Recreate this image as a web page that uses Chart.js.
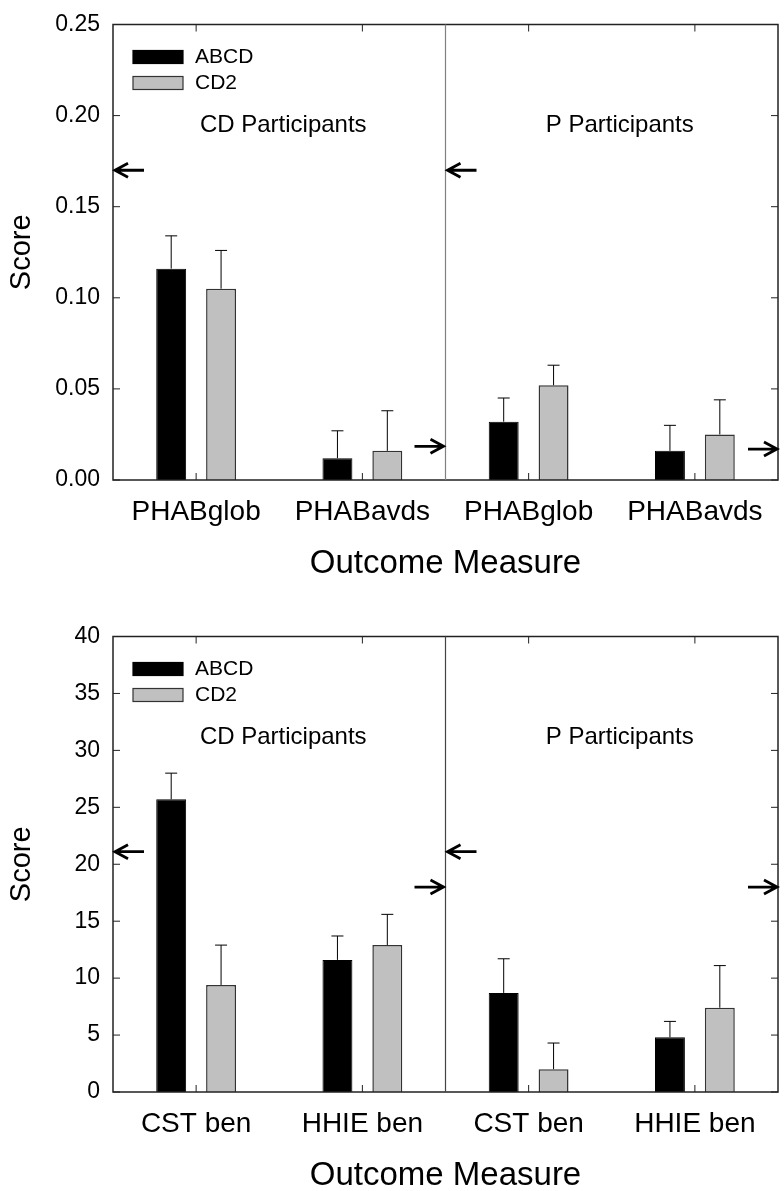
<!DOCTYPE html>
<html>
<head>
<meta charset="utf-8">
<script src="https://cdn.jsdelivr.net/npm/chart.js@4.4.1/dist/chart.umd.min.js"></script>
<style>
html, body { margin: 0; padding: 0; background: #fff; overflow: hidden; }
.box { position: absolute; left: 0; width: 784px; height: 579px; }
#top { top: 0; }
#bottom { top: 612px; }
</style>
</head>
<body>
<div class="box" id="top"><canvas id="chartTop"></canvas></div>
<div class="box" id="bottom"><canvas id="chartBottom"></canvas></div>
<script>
// series names and panel names
const seriesNames = ['ABCD', 'CD2'];
const panelNames = ['CD Participants', 'P Participants'];

// top panel (PHAB)
const categoriesTop = ['PHABglob', 'PHABavds', 'PHABglob', 'PHABavds'];
const abcdTop = [0.116, 0.012, 0.032, 0.016];
const abcdTopErr = [0.018, 0.015, 0.013, 0.014];
const cd2Top = [0.105, 0.016, 0.052, 0.025];
const cd2TopErr = [0.021, 0.022, 0.011, 0.019];
const yTicksTop = [0, 0.05, 0.10, 0.15, 0.20, 0.25];
const leftArrowsTop = [0.17, 0.17];     // CD panel, P panel
const rightArrowsTop = [0.0185, 0.017]; // CD panel, P panel

// bottom panel (CST / HHIE)
const categoriesBottom = ['CST ben', 'HHIE ben', 'CST ben', 'HHIE ben'];
const abcdBottom = [25.7, 11.6, 8.7, 4.8];
const abcdBottomErr = [2.3, 2.1, 3.0, 1.4];
const cd2Bottom = [9.4, 12.9, 2.0, 7.4];
const cd2BottomErr = [3.5, 2.7, 2.3, 3.7];
const yTicksBottom = [0, 5, 10, 15, 20, 25, 30, 35, 40];
const leftArrowsBottom = [21.1, 21.1];
const rightArrowsBottom = [18.0, 18.0];

Chart.defaults.font.family = "'Liberation Sans', Arial, sans-serif";
Chart.defaults.color = '#000';

function arrow(ctx, tipX, py, dir) {
  // dir -1 points left, 1 points right
  const len = 29, head = 13, spread = 7;
  ctx.beginPath();
  ctx.moveTo(tipX, py);
  ctx.lineTo(tipX - dir * len, py);
  ctx.moveTo(tipX - dir * head, py - spread);
  ctx.lineTo(tipX, py);
  ctx.lineTo(tipX - dir * head, py + spread);
  ctx.strokeStyle = '#000';
  ctx.lineWidth = 2.8;
  ctx.stroke();
}

const decor = {
  id: 'decor',
  afterDatasetsDraw(chart, args, opts) {
    const { ctx, chartArea: a, scales: { x, y } } = chart;
    const midX = (x.getPixelForValue(1) + x.getPixelForValue(2)) / 2;
    ctx.save();

    // error bars (upper only)
    chart.data.datasets.forEach((ds, i) => {
      chart.getDatasetMeta(i).data.forEach((bar, j) => {
        const yTop = y.getPixelForValue(ds.data[j] + ds.errors[j]);
        ctx.beginPath();
        ctx.moveTo(bar.x, bar.y);
        ctx.lineTo(bar.x, yTop);
        ctx.moveTo(bar.x - 6, yTop);
        ctx.lineTo(bar.x + 6, yTop);
        ctx.strokeStyle = '#000';
        ctx.lineWidth = 1;
        ctx.stroke();
      });
    });

    // frame
    ctx.strokeStyle = '#222';
    ctx.lineWidth = 1.5;
    ctx.strokeRect(a.left, a.top, a.right - a.left, a.bottom - a.top);

    // divider between panels
    ctx.beginPath();
    ctx.moveTo(midX, a.top);
    ctx.lineTo(midX, a.bottom);
    ctx.strokeStyle = opts.dividerColor;
    ctx.lineWidth = 1.2;
    ctx.stroke();

    // inside ticks
    ctx.strokeStyle = '#222';
    ctx.lineWidth = 1;
    ctx.beginPath();
    y.ticks.forEach(t => {
      const py = y.getPixelForValue(t.value);
      ctx.moveTo(a.left, py); ctx.lineTo(a.left + 7, py);
      ctx.moveTo(a.right - 7, py); ctx.lineTo(a.right, py);
    });
    chart.data.labels.forEach((l, i) => {
      const px = x.getPixelForValue(i);
      ctx.moveTo(px, a.bottom); ctx.lineTo(px, a.bottom - 7);
      ctx.moveTo(px, a.top); ctx.lineTo(px, a.top + 7);
    });
    ctx.stroke();

    // reference arrows
    arrow(ctx, a.left + 2, y.getPixelForValue(opts.leftArrows[0]), -1);
    arrow(ctx, midX + 2, y.getPixelForValue(opts.leftArrows[1]), -1);
    arrow(ctx, midX - 2, y.getPixelForValue(opts.rightArrows[0]), 1);
    arrow(ctx, a.right - 1, y.getPixelForValue(opts.rightArrows[1]), 1);

    // legend
    ctx.font = "21px 'Liberation Sans', Arial, sans-serif";
    ctx.textAlign = 'left';
    ctx.textBaseline = 'middle';
    chart.data.datasets.forEach((ds, i) => {
      const by = a.top + 26 + i * 26;
      ctx.fillStyle = ds.backgroundColor;
      ctx.fillRect(a.left + 20, by, 50, 13);
      ctx.strokeStyle = ds.borderColor;
      ctx.lineWidth = 1.2;
      ctx.strokeRect(a.left + 20, by, 50, 13);
      ctx.fillStyle = '#000';
      ctx.fillText(ds.label, a.left + 82, by + 7);
    });

    // panel labels
    ctx.font = "24px 'Liberation Sans', Arial, sans-serif";
    ctx.textAlign = 'center';
    ctx.textBaseline = 'alphabetic';
    const c1 = (x.getPixelForValue(0) + x.getPixelForValue(1)) / 2 + 4;
    const c2 = (x.getPixelForValue(2) + x.getPixelForValue(3)) / 2 + 8;
    ctx.fillText(panelNames[0], c1, a.top + 107);
    ctx.fillText(panelNames[1], c2, a.top + 107);

    ctx.restore();
  }
};

function makeChart(id, labels, abcd, abcdErr, cd2, cd2Err, yTicks, fmt, leftArrows, rightArrows, dividerColor) {
  const ctx = document.getElementById(id).getContext('2d');
  return new Chart(ctx, {
    type: 'bar',
    data: {
      labels: labels,
      datasets: [{
        label: seriesNames[0],
        data: abcd,
        errors: abcdErr,
        backgroundColor: '#000000',
        borderColor: '#000000',
        borderWidth: 1,
        categoryPercentage: 0.6,
        barPercentage: 0.6
      }, {
        label: seriesNames[1],
        data: cd2,
        errors: cd2Err,
        backgroundColor: '#c0c0c0',
        borderColor: '#333333',
        borderWidth: 1.5,
        categoryPercentage: 0.6,
        barPercentage: 0.6
      }]
    },
    options: {
      responsive: true,
      maintainAspectRatio: false,
      animation: false,
      layout: { padding: { top: 14, right: 6, left: 0, bottom: 0 } },
      plugins: {
        legend: { display: false },
        tooltip: { enabled: false },
        decor: { leftArrows: leftArrows, rightArrows: rightArrows, dividerColor: dividerColor }
      },
      scales: {
        x: {
          grid: { display: false, drawTicks: false },
          border: { display: false },
          ticks: { color: '#000', font: { size: 28 }, padding: 15, maxRotation: 0, autoSkip: false },
          afterFit: s => { s.height = 99; },
          title: {
            display: true, text: 'Outcome Measure', color: '#000',
            font: { size: 33, lineHeight: 0.9 }, padding: { top: 0, bottom: 0 }
          }
        },
        y: {
          min: yTicks[0],
          max: yTicks[yTicks.length - 1],
          grid: { display: false, drawTicks: false },
          border: { display: false },
          afterBuildTicks: s => { s.ticks = yTicks.map(v => ({ value: v })); },
          ticks: { color: '#000', font: { size: 23, lineHeight: 1 }, padding: 13, callback: fmt },
          afterFit: s => { s.width = 113; },
          title: {
            display: true, text: 'Score', color: '#000',
            font: { size: 29 }, padding: { top: 5, bottom: 0 }
          }
        }
      }
    },
    plugins: [decor]
  });
}

makeChart('chartTop', categoriesTop, abcdTop, abcdTopErr, cd2Top, cd2TopErr, yTicksTop,
  v => Number(v).toFixed(2), leftArrowsTop, rightArrowsTop, '#808080');
makeChart('chartBottom', categoriesBottom, abcdBottom, abcdBottomErr, cd2Bottom, cd2BottomErr, yTicksBottom,
  v => String(v), leftArrowsBottom, rightArrowsBottom, '#444444');
</script>
</body>
</html>
